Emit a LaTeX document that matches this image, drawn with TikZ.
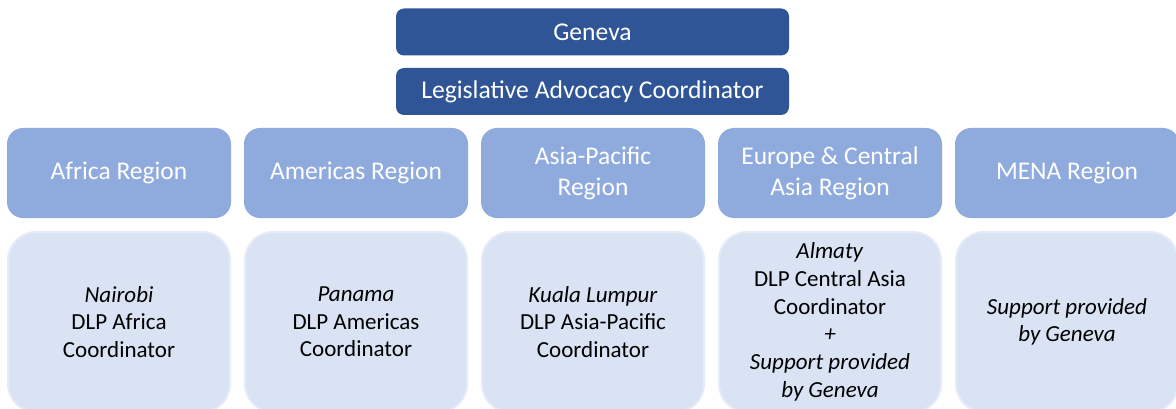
\documentclass[tikz,border=0pt]{standalone}
\usepackage{fontspec}
\setmainfont{Carlito}
\definecolor{dkblue}{HTML}{2F5597}
\definecolor{regblue}{HTML}{8FAADC}
\definecolor{ltblue}{HTML}{DAE3F3}
\definecolor{ltedge}{HTML}{E6ECF7}
\begin{document}
\begin{tikzpicture}[x=1pt,y=-1pt,
  every node/.style={align=center, inner sep=0pt},
  topbox/.style={fill=dkblue, text=white, rounded corners=8pt, minimum width=393pt, minimum height=47pt, font=\fontsize{25.6}{31}\selectfont},
  regbox/.style={fill=regblue, text=white, rounded corners=16pt, minimum width=224pt, minimum height=90pt, font=\fontsize{25.5}{31}\selectfont},
  botbox/.style={fill=ltblue, draw=ltedge, line width=2pt, text=black, rounded corners=28pt, minimum width=222pt, minimum height=180pt, font=\fontsize{23}{27.7}\selectfont}]
\useasboundingbox (0,0) rectangle (1176,409);
\clip (0,0) rectangle (1176,409);
\fill[white] (0,0) rectangle (1176,409);
\node[topbox] (geneva) at (592.5,32) {Geneva};
\node[topbox] (lac) at (592.5,91.5) {Legislative Advocacy Coordinator};
\node[regbox] (africa) at (119,173) {Africa Region};
\node[regbox] (americas) at (356,173) {Americas Region};
\node[regbox] (asia) at (593,173) {Asia-Pacific\\Region};
\node[regbox] (europe) at (830,173) {Europe \& Central\\Asia Region};
\node[regbox] (mena) at (1067,173) {MENA Region};
\node[botbox] (bafrica) at (119,322) {\textit{Nairobi}\\DLP Africa\\Coordinator};
\node[botbox] (bamericas) at (356,322) {\textit{Panama}\\DLP Americas\\Coordinator};
\node[botbox] (basia) at (593,322) {\textit{Kuala Lumpur}\\DLP Asia-Pacific\\Coordinator};
\node[botbox] (beurope) at (830,322) {\textit{Almaty}\\DLP Central Asia\\Coordinator\\\textit{+}\\\textit{Support provided}\\\textit{by Geneva}};
\node[botbox] (bmena) at (1067,322) {\textit{Support provided}\\\textit{by Geneva}};
\end{tikzpicture}
\end{document}
